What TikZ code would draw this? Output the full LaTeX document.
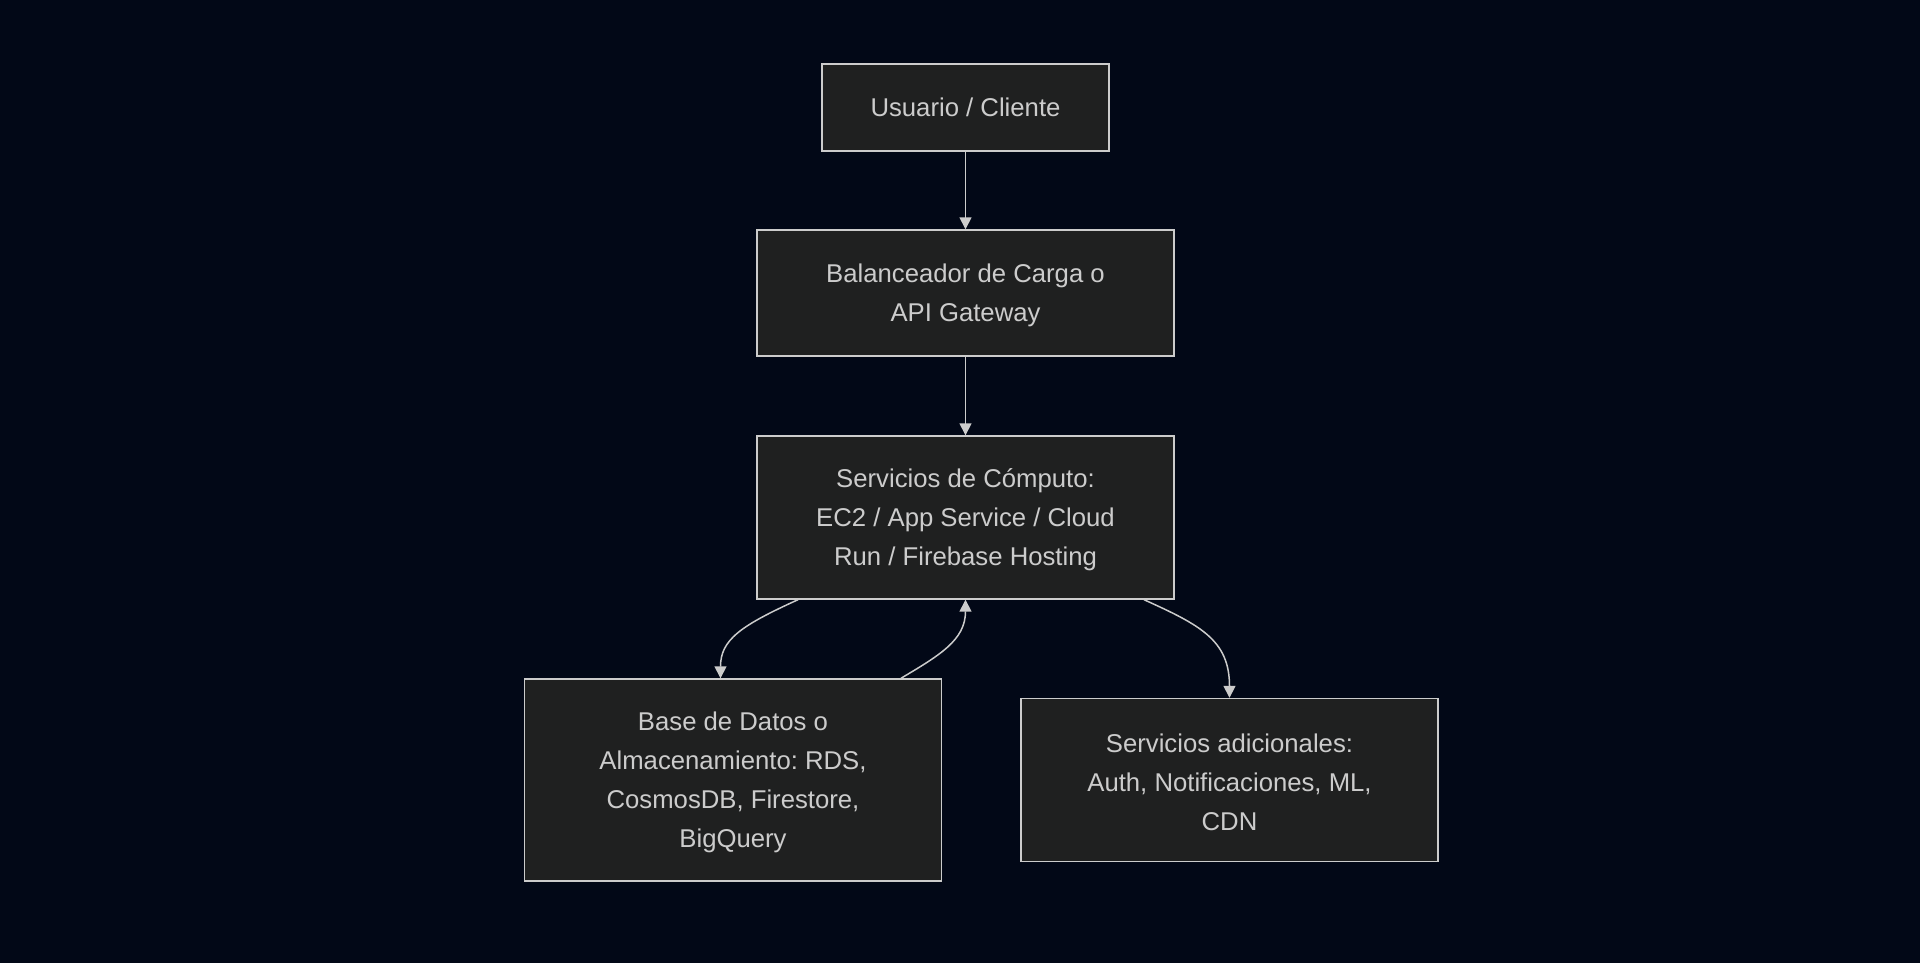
\documentclass[tikz,border=0pt]{standalone}
\usepackage{fontspec}
\setmainfont{Liberation Sans}
\frenchspacing
\usetikzlibrary{arrows.meta}
\definecolor{bgc}{HTML}{020817}
\definecolor{boxfill}{HTML}{1F2020}
\definecolor{boxline}{HTML}{CCCCCC}
\definecolor{txt}{HTML}{CCCCCC}
\begin{document}
\begin{tikzpicture}[x=1pt,y=-1pt,
  box/.style={draw=boxline, fill=boxfill, line width=1.4pt, rectangle, inner sep=0pt},
  lbl/.style={text=txt, align=center, inner sep=0pt, yshift=-2.5pt,
    font=\fontsize{25.7}{39.2}\selectfont},
  conn/.style={draw=boxline, line width=1.5pt, -{Triangle[length=12pt,width=12pt]}}]
\fill[bgc] (0,0) rectangle (1920,963);
\useasboundingbox (0,0) rectangle (1920,963);
\node[box, minimum width=287pt, minimum height=87pt,
  label={[lbl, yshift=2.5pt]center:Usuario / Cliente}] (b1) at (965.5,107.5) {};
\node[box, minimum width=417pt, minimum height=126pt,
  label={[lbl]center:Balanceador de Carga o\\API Gateway}] (b2) at (965.5,293) {};
\node[box, minimum width=417pt, minimum height=163pt,
  label={[lbl]center:Servicios de Cómputo:\\EC2 / App Service / Cloud\\Run / Firebase Hosting}] (b3) at (965.5,517.5) {};
\node[box, minimum width=417pt, minimum height=202pt,
  label={[lbl]center:Base de Datos o\\Almacenamiento: RDS,\\CosmosDB, Firestore,\\BigQuery}] (b4) at (733,780) {};
\node[box, minimum width=417pt, minimum height=163pt,
  label={[lbl]center:Servicios adicionales:\\Auth, Notificaciones, ML,\\CDN}] (b5) at (1229.5,780) {};
\draw[conn] (b1.south) -- (b2.north);
\draw[conn] (b2.south) -- (b3.north);
\coordinate (s34) at ([xshift=-167.5pt]b3.south);
\coordinate (e34) at ([xshift=-12.5pt]b4.north);
\draw[conn] (s34) .. controls (740,626) and (720.5,640) .. (e34);
\coordinate (s43) at ([xshift=168pt]b4.north);
\draw[conn] (s43) .. controls (940,655) and (965.5,640) .. (b3.south);
\coordinate (s35) at ([xshift=178.5pt]b3.south);
\draw[conn] (s35) .. controls (1200,625) and (1229.5,640) .. (b5.north);
\end{tikzpicture}
\end{document}
